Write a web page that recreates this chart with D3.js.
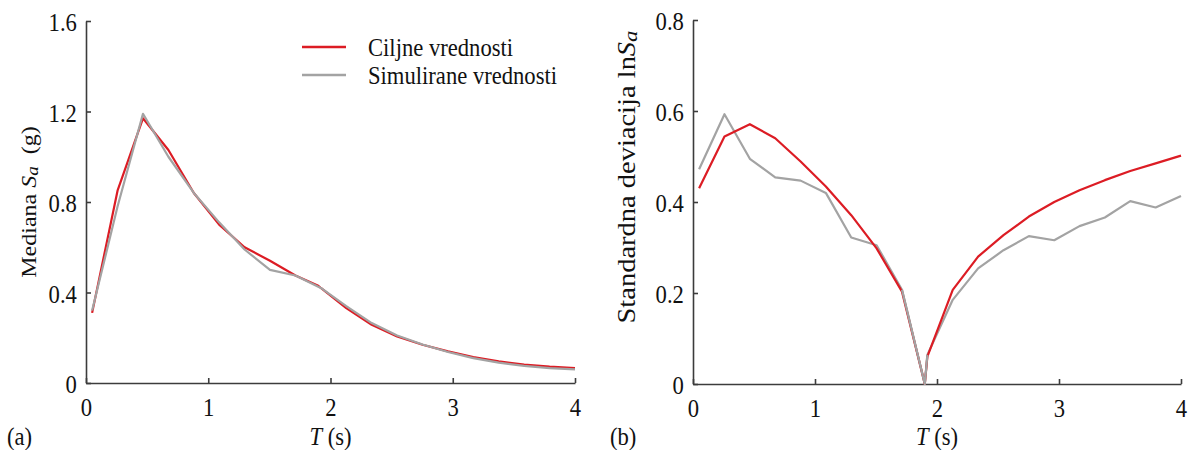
<!DOCTYPE html>
<html>
<head>
<meta charset="utf-8">
<script src="https://cdn.jsdelivr.net/npm/d3@7"></script>
<style>
  html, body { margin: 0; padding: 0; background: #fff; }
  svg { display: block; }
  text { font-family: "Liberation Serif", "Times New Roman", serif; fill: #111; }
</style>
</head>
<body>
<svg id="chart" width="1189" height="450"></svg>
<script>
// ---------- data ----------
const periods = [0.05, 0.258, 0.466, 0.674, 0.882, 1.089, 1.297, 1.505, 1.713, 1.90, 1.921,
                 2.129, 2.337, 2.545, 2.753, 2.961, 3.168, 3.376, 3.584, 3.792, 4.0];

// (a) median Sa (g)
const medianTarget = [0.31, 0.85, 1.17, 1.03, 0.84, 0.70, 0.60, 0.54, 0.475, 0.43, 0.42,
                      0.331, 0.257, 0.206, 0.169, 0.14, 0.115, 0.096, 0.081, 0.072, 0.066];
const medianSim    = [0.32, 0.78, 1.19, 1.00, 0.84, 0.71, 0.59, 0.50, 0.475, 0.425, 0.42,
                      0.34, 0.265, 0.21, 0.17, 0.137, 0.11, 0.09, 0.076, 0.066, 0.06];

// (b) standard deviation ln Sa
const sigmaTarget = [0.43, 0.544, 0.571, 0.54, 0.489, 0.434, 0.371, 0.298, 0.203, 0.0, 0.06,
                     0.207, 0.28, 0.327, 0.368, 0.40, 0.426, 0.448, 0.468, 0.485, 0.502];
const sigmaSim    = [0.472, 0.593, 0.495, 0.454, 0.447, 0.42, 0.322, 0.305, 0.207, 0.0, 0.064,
                     0.185, 0.254, 0.294, 0.325, 0.316, 0.347, 0.366, 0.402, 0.388, 0.413];

const xTicks = [0, 1, 2, 3, 4];
const yTicksA = [0, 0.4, 0.8, 1.2, 1.6];
const yTicksB = [0, 0.2, 0.4, 0.6, 0.8];
const legendLabels = ["Ciljne vrednosti", "Simulirane vrednosti"];

// ---------- style ----------
const RED = "#dc1c24";
const GRAY = "#a3a3a3";
const AXIS = "#3c3c3c";
const SX = 0.87;     // horizontal squeeze of glyphs as in the reference
const FS = 26;

const svg = d3.select("#chart");

function panel(opts) {
  const x = d3.scaleLinear().domain([0, 4]).range([opts.x0, opts.x1]);
  const y = d3.scaleLinear().domain(opts.ydom).range([opts.y0, opts.y1]);
  const g = svg.append("g");

  const xAxis = d3.axisBottom(x).tickValues(xTicks).tickFormat(d3.format("d"))
    .tickSizeInner(-5).tickSizeOuter(0).tickPadding(15);
  const yAxis = d3.axisLeft(y).tickValues(opts.yticks).tickFormat(opts.yfmt)
    .tickSizeInner(-5).tickSizeOuter(0).tickPadding(10.5);

  const gx = g.append("g").attr("transform", `translate(0,${opts.y0})`).call(xAxis);
  const gy = g.append("g").attr("transform", `translate(${opts.x0},0)`).call(yAxis);
  [gx, gy].forEach(a => {
    a.select(".domain").attr("stroke", AXIS).attr("stroke-width", 1.6);
    a.selectAll(".tick line").attr("stroke", AXIS).attr("stroke-width", 1.6);
    a.selectAll(".tick text").attr("font-size", FS)
      .attr("fill", "#111").attr("transform", `scale(${SX},1)`);
  });
  gy.selectAll(".tick text").attr("dy", "0.38em");

  const line = d3.line().x((d, i) => x(periods[i])).y(d => y(d));
  const draw = (data, color, lineGen) => g.append("path").datum(data).attr("d", lineGen || line)
    .attr("fill", "none").attr("stroke", color).attr("stroke-width", 2.2)
    .attr("stroke-linejoin", "round");

  if (opts.simOnTop) {
    draw(opts.target, RED);
    draw(opts.sim, GRAY);
  } else {
    draw(opts.sim, GRAY);
    draw(opts.target, RED);
    if (opts.simTopRange) {
      const [s, e] = opts.simTopRange;
      const part = d3.line().defined((d, i) => i >= s && i <= e)
        .x((d, i) => x(periods[i])).y(d => y(d));
      draw(opts.sim, GRAY, part);
    }
  }

  // x label: T (s)
  const xl = g.append("g").attr("transform", `translate(${(opts.x0 + opts.x1) / 2},445) scale(${SX},1)`);
  const xt = xl.append("text").attr("text-anchor", "middle").attr("font-size", FS);
  xt.append("tspan").attr("font-style", "italic").text("T");
  xt.append("tspan").text(" (s)");

  // panel letter
  g.append("g").attr("transform", `translate(${opts.letterX},445) scale(${SX},1)`)
    .append("text").attr("font-size", FS).text(opts.letter);

  // y label
  const yl = g.append("g").attr("transform", `translate(${opts.ylabX},${opts.ylabY}) scale(${SX},1) rotate(-90)`);
  const yt = yl.append("text").attr("text-anchor", "middle").attr("dominant-baseline", "central")
    .attr("font-size", opts.ylabFS);
  opts.ylabel(yt, opts.ylabFS);

  return { x, y, g };
}

// panel (a)
panel({
  x0: 86, x1: 575, y0: 383, y1: 21, ydom: [0, 1.6], yticks: yTicksA,
  yfmt: d => d === 0 ? "0" : d3.format(".1f")(d),
  target: medianTarget, sim: medianSim, simOnTop: true,
  letter: "(a)", letterX: 7, ylabX: 29, ylabY: 202, ylabFS: 24,
  ylabel: (t, fs) => {
    t.append("tspan").text("Mediana ");
    t.append("tspan").attr("font-style", "italic").text("S");
    t.append("tspan").attr("font-style", "italic").attr("font-size", fs * 0.8).attr("dy", "0.18em").text("a");
    t.append("tspan").attr("dy", "-0.15em").text("\u00a0\u00a0(g)");
  }
});

// panel (b)
panel({
  x0: 693, x1: 1181, y0: 384, y1: 20, ydom: [0, 0.8], yticks: yTicksB,
  yfmt: d => d === 0 ? "0" : d3.format(".1f")(d),
  target: sigmaTarget, sim: sigmaSim, simOnTop: false, simTopRange: [8, 10],
  letter: "(b)", letterX: 610, ylabX: 627, ylabY: 177, ylabFS: 28.5,
  ylabel: (t, fs) => {
    t.append("tspan").text("Standardna deviacija ln");
    t.append("tspan").attr("font-style", "italic").text("S");
    t.append("tspan").attr("font-style", "italic").attr("font-size", fs * 0.8).attr("dy", "0.18em").text("a");
  }
});

// legend (panel a)
const legend = svg.append("g");
const legendColors = [RED, GRAY];
const legendY = d3.scalePoint().domain(legendLabels).range([47, 75]);
legendLabels.forEach((lab, i) => {
  const yy = legendY(lab);
  legend.append("line").attr("x1", 302).attr("x2", 346).attr("y1", yy).attr("y2", yy)
    .attr("stroke", legendColors[i]).attr("stroke-width", 2.4);
  legend.append("g").attr("transform", `translate(368,${yy + 9}) scale(${SX},1)`)
    .append("text").attr("font-size", FS).text(lab);
});
</script>
</body>
</html>
